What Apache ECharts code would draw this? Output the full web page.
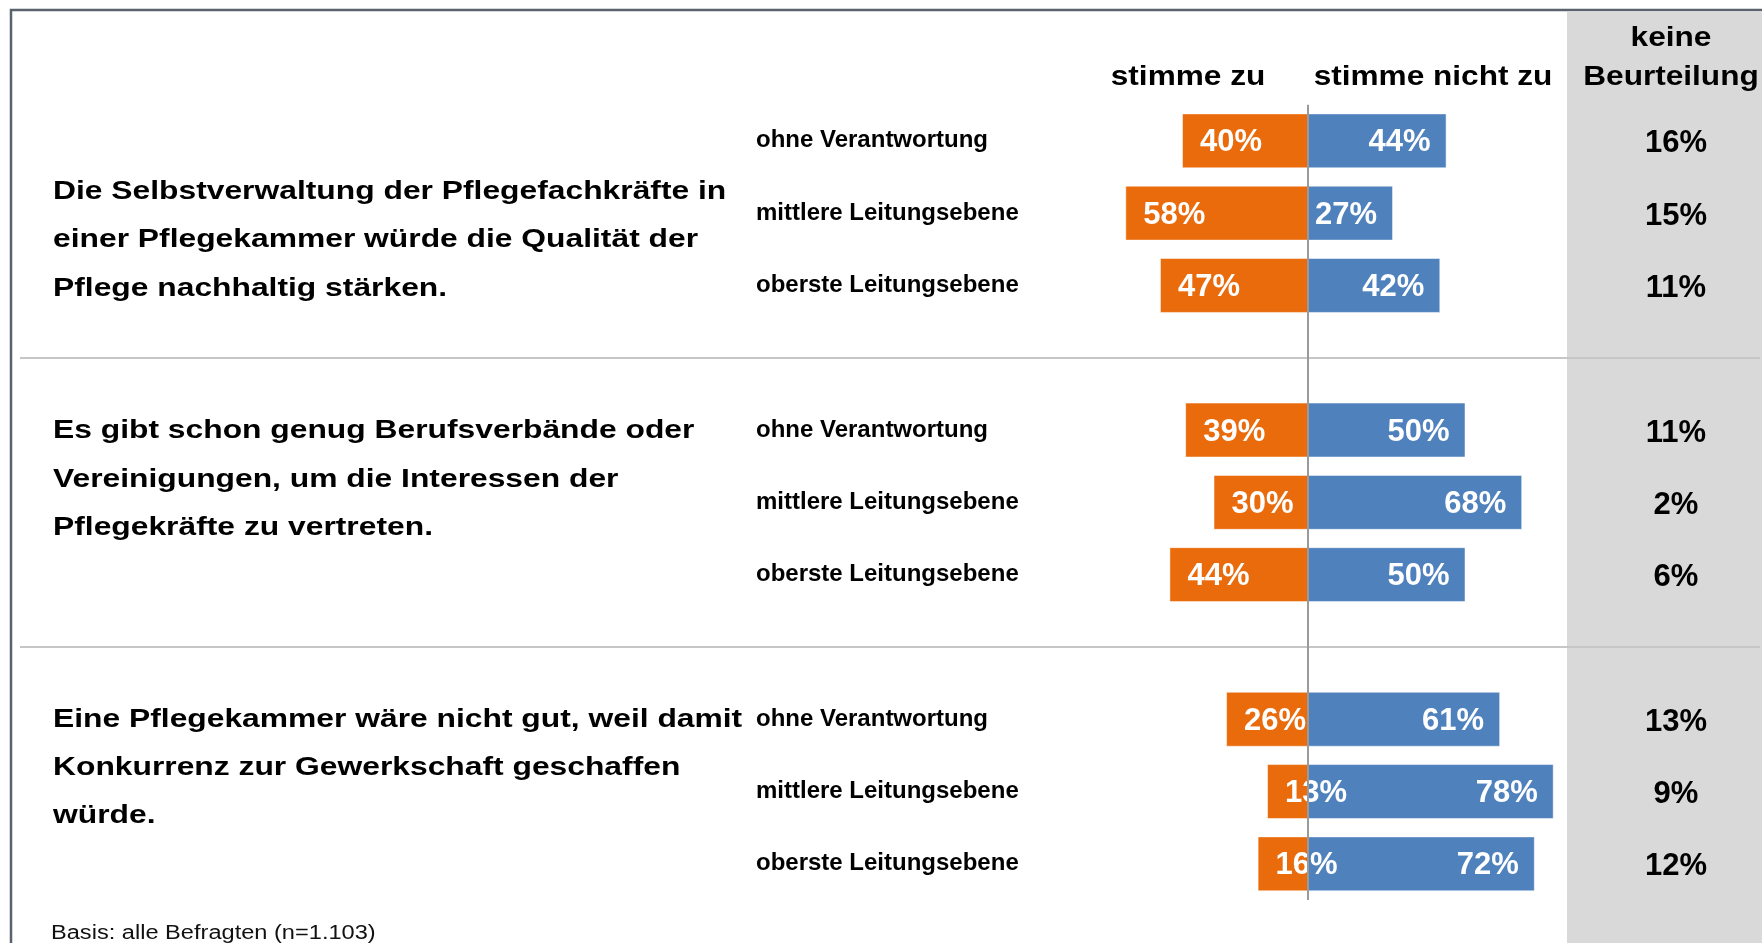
<!DOCTYPE html>
<html><head><meta charset="utf-8">
<script src="https://cdn.jsdelivr.net/npm/echarts@6/dist/echarts.min.js"></script>
<style>html,body{margin:0;padding:0;background:#fff}#c{width:1762px;height:943px}</style>
</head><body><div id="c"></div>
<script>
// ---- data ----
const questions = [
  'Die Selbstverwaltung der Pflegefachkräfte in\neiner Pflegekammer würde die Qualität der\nPflege nachhaltig stärken.',
  'Es gibt schon genug Berufsverbände oder\nVereinigungen, um die Interessen der\nPflegekräfte zu vertreten.',
  'Eine Pflegekammer wäre nicht gut, weil damit\nKonkurrenz zur Gewerkschaft geschaffen\nwürde.'
];
const levels = ['ohne Verantwortung', 'mittlere Leitungsebene', 'oberste Leitungsebene'];
const agree = [40, 58, 47, 39, 30, 44, 26, 13, 16];
const disagree = [44, 27, 42, 50, 68, 50, 61, 78, 72];
const noJudgement = [16, 15, 11, 11, 2, 6, 13, 9, 12];
const headAgree = 'stimme zu';
const headDisagree = 'stimme nicht zu';
const headNone = 'keine\nBeurteilung';
const basisNote = 'Basis: alle Befragten (n=1.103)';

// ---- build category slots (blank slot between question groups) ----
const categories = [];
const rowIndex = [];
questions.forEach((q, g) => {
  if (g > 0) categories.push('');
  levels.forEach(l => { rowIndex.push(categories.length); categories.push(l); });
});
const agreeData = categories.map(() => '-');
const disagreeData = categories.map(() => '-');
rowIndex.forEach((r, k) => { agreeData[r] = -agree[k]; disagreeData[r] = disagree[k]; });
const noneData = rowIndex.map((r, k) => [headNone, r, noJudgement[k]]);

const FONT = '"Liberation Sans", Arial, sans-serif';
const chart = echarts.init(document.getElementById('c'), null, {renderer: 'canvas'});

chart.setOption({
  animation: false,
  backgroundColor: '#fff',
  textStyle: {fontFamily: FONT},
  grid: [
    {left: 993, right: 139, top: 104.7, bottom: 43},
    {left: 1590, right: 0, top: 104.7, bottom: 43}
  ],
  xAxis: [
    {gridIndex: 0, type: 'value', min: -100, max: 100, show: false},
    {gridIndex: 1, type: 'category', data: [headNone], show: false}
  ],
  yAxis: [
    {gridIndex: 0, type: 'category', data: categories, inverse: true,
     axisLine: {show: false}, axisTick: {show: false}, splitLine: {show: false},
     axisLabel: {align: 'left', margin: 237, color: '#000', fontWeight: 'bold', fontSize: 24, fontFamily: FONT,
                 padding: [6, 0, 0, 0]}},
    {gridIndex: 1, type: 'category', data: categories, inverse: true, show: false}
  ],
  series: [
    {type: 'bar', name: headAgree, stack: 'total', data: agreeData, barCategoryGap: '24%',
     itemStyle: {color: '#E96B0C', borderColor: 'rgba(255,255,255,0.5)', borderWidth: 1},
     label: {show: true, position: 'insideLeft', distance: 18, offset: [0, 2], color: '#fff', fontWeight: 'bold', fontSize: 31, fontFamily: FONT,
             formatter: p => Math.abs(p.value) + '%'}},
    {type: 'bar', name: headDisagree, stack: 'total', data: disagreeData, barCategoryGap: '24%',
     itemStyle: {color: '#4F81BD', borderColor: 'rgba(255,255,255,0.5)', borderWidth: 1},
     label: {show: true, position: 'insideRight', distance: 16, offset: [0, 2], color: '#fff', fontWeight: 'bold', fontSize: 31, fontFamily: FONT,
             formatter: p => p.value + '%'},
     markLine: {silent: true, symbol: 'none', label: {show: false},
                lineStyle: {color: '#9a9a9a', width: 2, type: 'solid'},
                data: [{xAxis: 0}]}},
    {type: 'scatter', xAxisIndex: 1, yAxisIndex: 1, data: noneData, symbolSize: 1,
     itemStyle: {color: 'rgba(0,0,0,0)', opacity: 1},
     label: {show: true, position: 'inside', offset: [0, 3], color: '#000', opacity: 1, fontWeight: 'bold', fontSize: 31, fontFamily: FONT,
             formatter: p => p.value[2] + '%'}}
  ]
});

// ---- decorations positioned from the axes ----
function yOf(idx) { return chart.convertToPixel({yAxisIndex: 0}, idx); }
const qOffset = [27, -23, -24];
const g = [];
g.push({type: 'rect', id: 'frame', z: 0, shape: {x: 11, y: 10, width: 1800, height: 1000},
        style: {fill: 'none', stroke: '#5a636d', lineWidth: 2.5}});
g.push({type: 'rect', id: 'grayPanel', z: 0, shape: {x: 1567, y: 12, width: 200, height: 940},
        style: {fill: '#d9d9d9'}});
categories.forEach((c, i) => {
  if (c === '') {
    const y = Math.round(yOf(i));
    g.push({type: 'line', z: 1, shape: {x1: 20, y1: y, x2: 1760, y2: y},
            style: {stroke: '#c6c6c6', lineWidth: 2}});
  }
});
questions.forEach((q, k) => {
  const y = yOf(rowIndex[k * 3 + 1]) + qOffset[k];
  g.push({type: 'text', z: 3, x: 53, y: y, scaleX: 1.2,
          style: {text: q, fill: '#000', fontSize: 26.5, fontWeight: 'bold', fontFamily: FONT,
                  lineHeight: 48.3, textAlign: 'left', align: 'left',
                  textVerticalAlign: 'middle', verticalAlign: 'middle'}});
});
const headStyle = {fill: '#000', fontSize: 27, fontWeight: 'bold', fontFamily: FONT,
                   textAlign: 'center', align: 'center', textVerticalAlign: 'middle', verticalAlign: 'middle', lineHeight: 39};
g.push({type: 'text', z: 3, x: 1188, y: 77.5, scaleX: 1.17, style: Object.assign({text: headAgree}, headStyle)});
g.push({type: 'text', z: 3, x: 1433, y: 77.5, scaleX: 1.17, style: Object.assign({text: headDisagree}, headStyle)});
g.push({type: 'text', z: 3, x: 1671, y: 58, scaleX: 1.17, style: Object.assign({text: headNone}, headStyle)});
g.push({type: 'text', z: 3, x: 51, y: 933, scaleX: 1.18,
        style: {text: basisNote, fill: '#111', fontSize: 20, fontFamily: FONT,
                textAlign: 'left', align: 'left', textVerticalAlign: 'middle', verticalAlign: 'middle'}});
chart.setOption({graphic: g});
</script>
</body></html>
